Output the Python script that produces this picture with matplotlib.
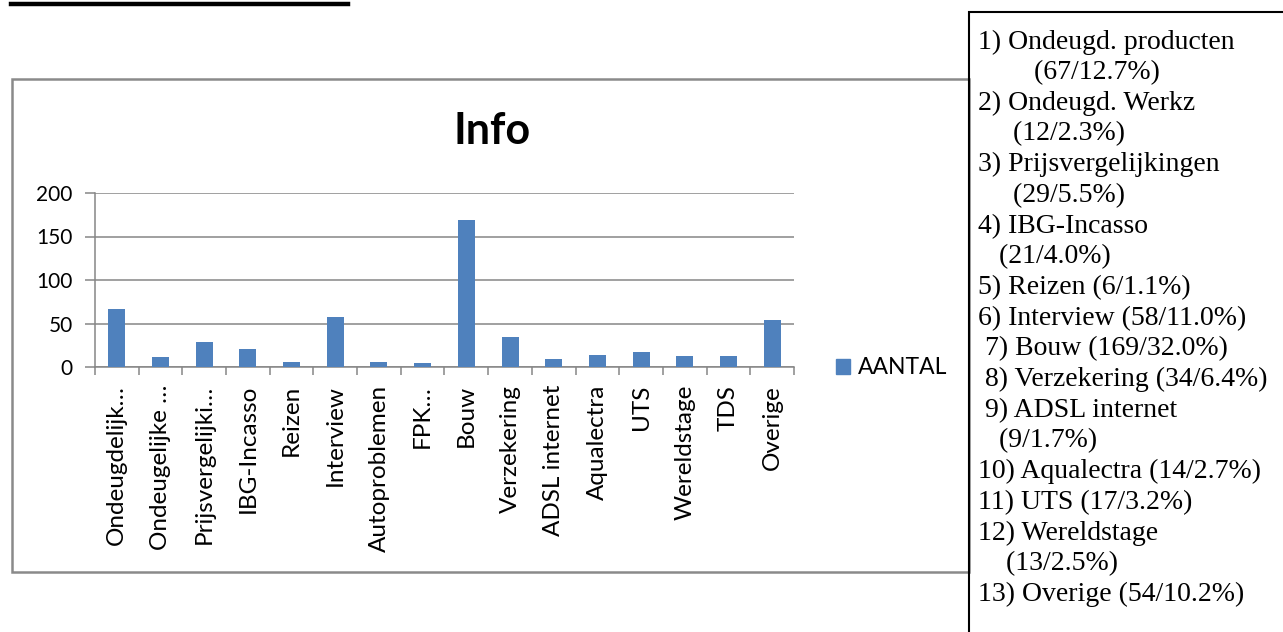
import matplotlib
matplotlib.use("Agg")
import matplotlib.pyplot as plt
from matplotlib.patches import Rectangle
from matplotlib.lines import Line2D

W, H = 1283, 632
BAR_COLOR = "#4F81BD"
GRID_COLOR = "#868686"
SANS = ["Lato", "DejaVu Sans"]
SERIF = ["Liberation Serif", "DejaVu Serif"]

categories = [
    "Ondeugdelijk…", "Ondeugelijke …", "Prijsvergelijki…", "IBG-Incasso",
    "Reizen", "Interview", "Autoproblemen", "FPK…", "Bouw", "Verzekering",
    "ADSL internet", "Aqualectra", "UTS", "Wereldstage", "TDS", "Overige",
]
aantal = [67, 12, 29, 21, 6, 58, 6, 5, 169, 34, 9, 14, 17, 13, 13, 54]
y_ticks = [0, 50, 100, 150, 200]
series_name = "AANTAL"
title = "Info"

side_lines = [
    "1) Ondeugd. producten",
    "        (67/12.7%)",
    "2) Ondeugd. Werkz",
    "     (12/2.3%)",
    "3) Prijsvergelijkingen",
    "     (29/5.5%)",
    "4) IBG-Incasso",
    "   (21/4.0%)",
    "5) Reizen (6/1.1%)",
    "6) Interview (58/11.0%)",
    " 7) Bouw (169/32.0%)",
    " 8) Verzekering (34/6.4%)",
    " 9) ADSL internet",
    "   (9/1.7%)",
    "10) Aqualectra (14/2.7%)",
    "11) UTS (17/3.2%)",
    "12) Wereldstage",
    "    (13/2.5%)",
    "13) Overige (54/10.2%)",
]


def fx(px):
    return px / W


def fy(py):
    return 1 - py / H


fig = plt.figure(figsize=(W / 100, H / 100), dpi=100)

# black rule at the top
fig.add_artist(Line2D([fx(11), fx(348)], [fy(4), fy(4)], color="black", lw=3.2))

# chart frame (right side runs under the list box)
fig.add_artist(Rectangle((fx(12), fy(572)), fx(969 - 12), fy(79) - fy(572),
                         fill=False, edgecolor="#8a8a8a", lw=1.8))

ax = fig.add_axes([fx(95), fy(367), fx(794 - 95), fy(193) - fy(367)])
x = list(range(len(categories)))
ax.bar(x, aantal, width=0.39, color=BAR_COLOR, zorder=3)
ax.set_xlim(-0.5, len(categories) - 0.5)
ax.set_ylim(0, 200)
ax.set_yticks(y_ticks)
ax.set_yticklabels([str(v) for v in y_ticks], family=SANS, fontsize=15)
ax.grid(axis="y", color=GRID_COLOR, lw=1.1, zorder=0)
ax.set_xticks(x)
ax.set_xticklabels(categories, rotation=90, family=SANS, fontsize=17.5, va="top")
ax.set_xticks([i - 0.5 for i in range(len(categories) + 1)], minor=True)
ax.tick_params(axis="x", which="major", length=0, pad=13)
ax.tick_params(axis="x", which="minor", length=6, color=GRID_COLOR, width=1.1)
ax.tick_params(axis="y", length=7, color=GRID_COLOR, width=1.1, pad=9)
for side in ["top", "right"]:
    ax.spines[side].set_visible(False)
ax.spines["left"].set_color(GRID_COLOR)
ax.spines["bottom"].set_color(GRID_COLOR)
ax.spines["left"].set_linewidth(1.1)
ax.spines["bottom"].set_linewidth(1.1)

fig.text(fx(492), fy(131), title, family=SANS, fontsize=31, fontweight="bold",
         ha="center", va="center")

handle = Rectangle((0, 0), 1, 1, color=BAR_COLOR)
fig.legend([handle], [series_name], loc="center left",
           bbox_to_anchor=(fx(836), fy(368)), frameon=False,
           prop={"family": SANS, "size": 16.5}, handlelength=0.6,
           handleheight=0.6, handletextpad=0.35, borderpad=0, borderaxespad=0)

# side box with the numbered list
fig.add_artist(Rectangle((fx(969), fy(650)), fx(400), fy(12) - fy(650),
                         fill=False, edgecolor="black", lw=1.5))
for i, line in enumerate(side_lines):
    fig.text(fx(978), fy(42 + i * 30.7), line, family=SERIF, fontsize=20,
             ha="left", va="center")

fig.savefig("out.png", dpi=100)
